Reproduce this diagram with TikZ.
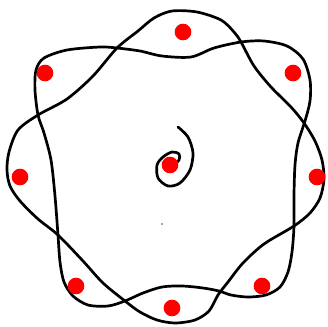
\documentclass[tikz,border=0pt]{standalone}
\usepackage{amssymb}
\usepackage{tikz}
\pgfdeclarelayer{edgelayer}
\pgfdeclarelayer{nodelayer}
\pgfsetlayers{edgelayer,nodelayer,main}
\tikzstyle{none}=[inner sep=0pt]
\tikzstyle{strand}=[draw=black, line width=2.3pt, line cap=round, line join=round]
\tikzstyle{reddot}=[circle, fill=red, draw=none, inner sep=0pt, minimum size=0.5cm]
\tikzstyle{speck}=[circle, fill=black!70, draw=none, inner sep=0pt, minimum size=0.05cm]

\begin{document}
\begin{tikzpicture}[x=0.03cm, y=-0.03cm]
			\useasboundingbox (0,0) rectangle (328,326);
			\begin{pgfonlayer}{nodelayer}
			\node [style=reddot] (0) at (183, 32) {};
			\node [style=reddot] (1) at (293, 73) {};
			\node [style=reddot] (2) at (317, 177) {};
			\node [style=reddot] (3) at (262, 286) {};
			\node [style=reddot] (4) at (172, 308) {};
			\node [style=reddot] (5) at (76, 286) {};
			\node [style=reddot] (6) at (20, 177) {};
			\node [style=reddot] (7) at (45, 73) {};
			\node [style=reddot] (8) at (170, 165) {};
			\node [style=speck] (9) at (162, 224) {};
			\end{pgfonlayer}
			\begin{pgfonlayer}{edgelayer}
			% outer at top, right, bottom and left
			\draw [style=strand] plot [smooth cycle] coordinates {
				(117,48) (138,31) (154,18) (172,11) (197,12) (221,20) (234,32)
				(241,42) (254,66) (271,87) (291,107) (304,123) (315,141) (322,160)
				(324,179) (320,198) (310,213) (294,226) (264,244) (243,263) (228,282)
				(218,295) (209,311) (195,320) (175,323) (157,320) (140,312) (125,301)
				(103,283) (83,261) (58,235) (38,219) (20,201) (10,186) (7,170)
				(9,152) (18,130) (38,115) (67,99) (93,76)};
			% outer at the four corners
			\draw [style=strand] plot [smooth cycle] coordinates {
				(38,115) (35,90) (36,70) (44,58) (67,50) (100,47) (117,48)
				(140,51) (162,56) (191,57) (214,48) (241,42) (264,41) (287,46)
				(303,59) (310,80) (310,101) (305,121) (298,143) (295,165) (294,195)
				(294,226) (292,252) (288,272) (280,287) (266,295) (248,297) (231,295)
				(219,291) (203,288) (182,286) (162,287) (143,293) (125,301) (108,306)
				(88,305) (73,296) (64,282) (60,262) (58,235) (55,196) (51,160)
				(44,133)};
			% spiral
			\draw [style=strand] plot [smooth] coordinates {
				(178,127) (188,137) (193,153) (190,170) (180,183) (168,186)
				(158,178) (157,165) (163,157) (172,152) (179,154) (179,160) (172,167)};
			\end{pgfonlayer}
\end{tikzpicture}
\end{document}
